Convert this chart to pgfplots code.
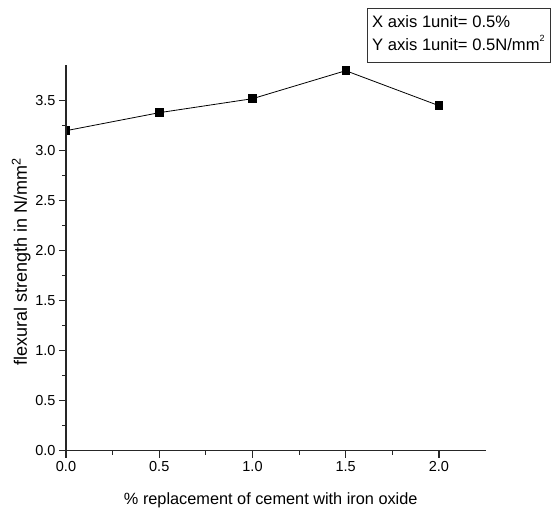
\documentclass[border=0pt]{standalone}
\usepackage{pgfplots}
\pgfplotsset{compat=1.18}
\usepackage{fontspec}
\setmainfont{Liberation Sans}
\begin{document}
\begin{tikzpicture}[x=1pt,y=1pt]
\useasboundingbox (0,0) rectangle (552,510);
\begin{axis}[
  at={(66pt,59.3pt)}, anchor=south west,
  scale only axis, width=419.6pt, height=385.7pt,
  xmin=0, xmax=2.25, ymin=0, ymax=3.857,
  axis x line*=bottom, axis y line*=left,
  axis line style={-, line width=1.1pt, black!85},
  xtick={0,0.5,1,1.5,2}, ytick={0,0.5,1,1.5,2,2.5,3,3.5},
  minor x tick num=1, minor y tick num=1,
  tick align=outside, major tick length=7pt, minor tick length=4pt,
  tick style={line width=1.1pt, black!85},
  xticklabel style={/pgf/number format/.cd, fixed, fixed zerofill, precision=1, assume math mode=true},
  yticklabel style={/pgf/number format/.cd, fixed, fixed zerofill, precision=1, assume math mode=true},
  tick label style={font=\fontsize{14.5}{17}\selectfont},
  xlabel={\% replacement of cement with iron oxide},
  ylabel={flexural strength in N/mm$^{\mathrm{2}}$},
  xlabel style={font=\fontsize{16.3}{19}\selectfont, at={(axis description cs:0.488,0)}, anchor=base, yshift=-54.3pt},
  ylabel style={font=\fontsize{18}{21}\selectfont, at={(axis description cs:-0.0930,0.49)}, anchor=base, rotate=0},
  clip marker paths=true,
  axis on top,
]
\addplot[black, line width=0.8pt, mark=square*, mark size=3.8pt, mark options={solid, fill=black}]
  coordinates {(0,3.20) (0.5,3.38) (1.0,3.52) (1.5,3.80) (2.0,3.45)};
\end{axis}
\draw[line width=0.9pt, black!80] (367.5,448) rectangle (550,502);
\node[anchor=base west, inner sep=0pt, font=\fontsize{16.6}{20}\selectfont] at (372,482) {X axis 1unit= 0.5\%};
\node[anchor=base west, inner sep=0pt, font=\fontsize{16.6}{20}\selectfont] at (372,459) {Y axis 1unit= 0.5N/mm\raisebox{0.55em}{\fontsize{9}{10}\selectfont 2}};
\end{tikzpicture}
\end{document}
